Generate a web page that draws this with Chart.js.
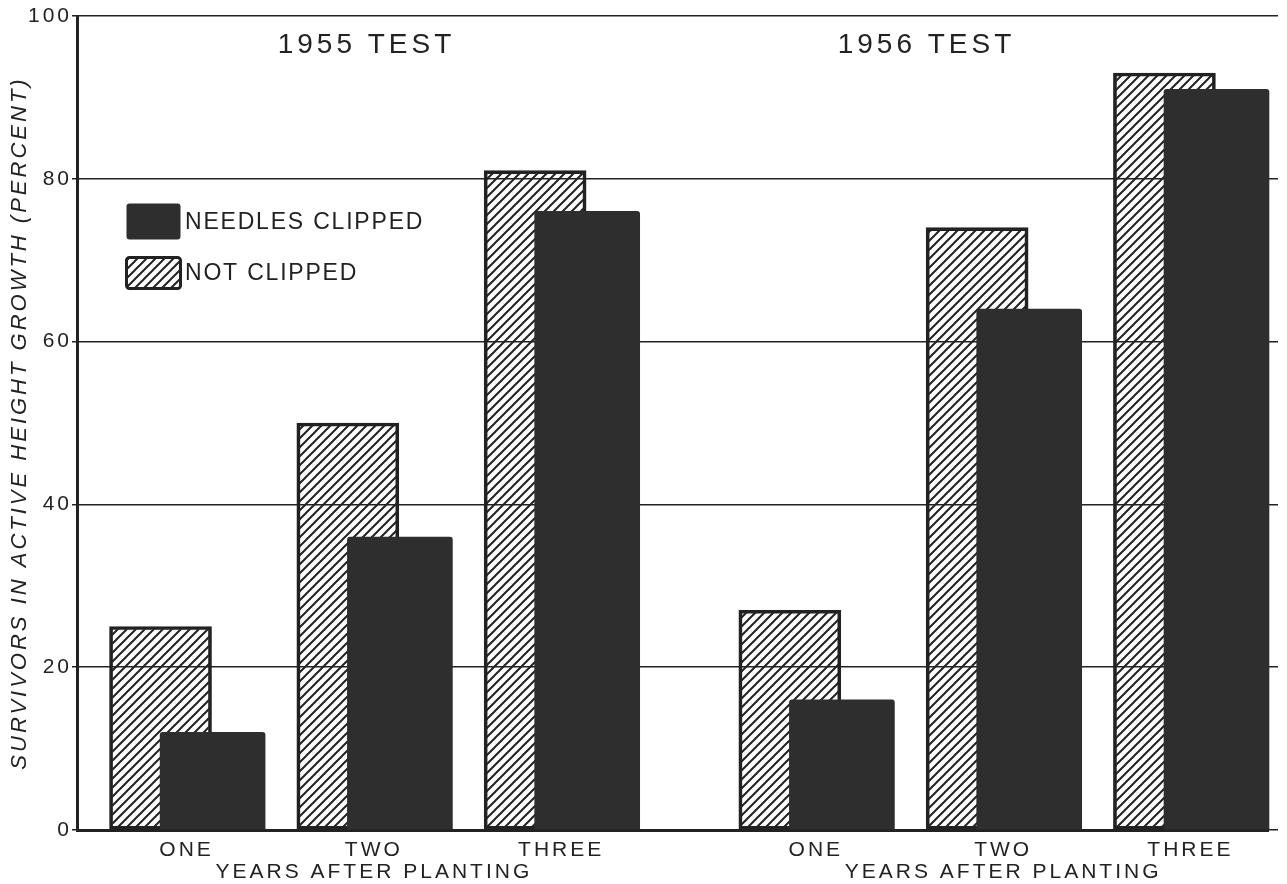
<!DOCTYPE html>
<html>
<head>
<meta charset="utf-8">
<script src="https://cdn.jsdelivr.net/npm/chart.js@4/dist/chart.umd.min.js"></script>
<style>
  body { margin: 0; background: #fff; }
  canvas { display: block; }
</style>
</head>
<body>
<canvas id="chart" width="1287" height="884"></canvas>
<script>
const years = ['ONE', 'TWO', 'THREE'];
const tests = ['1955 TEST', '1956 TEST'];
const xLabels = [...years, ...years];
// category positions, with a wider gap between the two tests
const xPos = [1, 2, 3, 4.36, 5.36, 6.36];
const notClipped = [25, 50, 81, 27, 74, 93];
const clipped = [12, 36, 76, 16, 64, 91];
const yTicks = [0, 20, 40, 60, 80, 100];

const ink = '#222222';
const solid = '#2e2e2e';
const xMin = 0.415, xMax = 6.774;
const shift = 0.139; // half the offset between the two overlapping bars

function makeHatch(ctx) {
    const c = document.createElement('canvas');
    c.width = c.height = 9;
    const g = c.getContext('2d');
    g.strokeStyle = ink;
    g.lineWidth = 2;
    g.beginPath();
    g.moveTo(0, 9); g.lineTo(9, 0);
    g.moveTo(-1, 1); g.lineTo(1, -1);
    g.moveTo(8, 10); g.lineTo(10, 8);
    g.stroke();
    return ctx.createPattern(c, 'repeat');
}

document.addEventListener('DOMContentLoaded', function () {
    const ctx = document.getElementById('chart').getContext('2d');
    const hatch = makeHatch(ctx);

    const extras = {
        id: 'extras',
        beforeDraw: function(chart) {
            chart.ctx.letterSpacing = '3px';
        },
        afterDraw: function(chart) {
            const c = chart.ctx;
            const x = chart.scales.x;
            const y = chart.scales.y;
            const area = chart.chartArea;
            c.save();
            c.fillStyle = ink;
            c.textBaseline = 'middle';

            // test titles
            c.font = '28px "Liberation Sans"';
            c.letterSpacing = '4px';
            c.textAlign = 'center';
            const titleX = [1.95, 4.94];
            tests.forEach((t, i) => c.fillText(t, x.getPixelForValue(titleX[i]) + 2, y.getPixelForValue(96.4)));

            // legend
            const ds = chart.data.datasets;
            const lx = area.left + 48;
            const rows = [{ds: ds[0], top: area.top + 186, h: 39}, {ds: ds[1], top: area.top + 240, h: 34}];
            c.font = '23px "Liberation Sans"';
            c.letterSpacing = '1.8px';
            c.textAlign = 'left';
            rows.forEach(r => {
                c.beginPath();
                c.roundRect(lx + 1.5, r.top + 1.5, 54, r.h - 3, 3);
                c.fillStyle = r.ds.backgroundColor;
                c.fill();
                if (r.ds.borderWidth) {
                    c.lineWidth = 3;
                    c.strokeStyle = r.ds.borderColor;
                    c.stroke();
                }
                c.fillStyle = ink;
                c.fillText(r.ds.label, lx + 60, r.top + r.h / 2 + 1);
            });
            c.restore();
        }
    };

    new Chart(ctx, {
        type: 'bar',
        data: {
            datasets: [{
                label: 'NEEDLES CLIPPED',
                data: xPos.map((v, i) => ({x: v, y: clipped[i]})),
                xAxisID: 'xb',
                backgroundColor: solid,
                borderWidth: 0,
                borderRadius: 3,
                borderSkipped: 'bottom',
                barThickness: 105,
                grouped: false,
                clip: false,
                order: 0
            }, {
                label: 'NOT CLIPPED',
                data: xPos.map((v, i) => ({x: v, y: notClipped[i]})),
                xAxisID: 'xa',
                backgroundColor: hatch,
                borderColor: ink,
                borderWidth: 3,
                borderSkipped: false,
                barThickness: 102,
                grouped: false,
                order: 1
            }]
        },
        options: {
            responsive: false,
            animation: false,
            layout: { padding: { top: 16, left: 0, right: 0, bottom: 0 } },
            plugins: {
                legend: { display: false },
                tooltip: { enabled: false }
            },
            scales: {
                x: {
                    type: 'linear',
                    offset: false,
                    min: xMin,
                    max: xMax,
                    afterBuildTicks: function(scale) {
                        scale.ticks = xPos.map(v => ({value: v}));
                    },
                    afterFit: function(scale) { scale.height = 54; },
                    grid: { display: false, drawTicks: false },
                    border: { display: true, color: ink, width: 3 },
                    ticks: {
                        autoSkip: false,
                        maxRotation: 0,
                        padding: 9,
                        color: ink,
                        font: { family: 'Liberation Sans', size: 21, lineHeight: 1.05 },
                        callback: function(value, index) {
                            return index % 3 === 1 ? [xLabels[index], 'YEARS AFTER PLANTING'] : xLabels[index];
                        }
                    }
                },
                xa: { type: 'linear', display: false, offset: false, min: xMin + shift, max: xMax + shift },
                xb: { type: 'linear', display: false, offset: false, min: xMin - shift, max: xMax - shift },
                y: {
                    min: 0,
                    max: 100,
                    afterBuildTicks: function(scale) {
                        scale.ticks = yTicks.map(v => ({value: v}));
                    },
                    afterFit: function(scale) { scale.width = 77; },
                    grid: { color: ink, lineWidth: 1.5, tickLength: 5 },
                    border: { display: true, color: ink, width: 3 },
                    ticks: {
                        padding: 0,
                        color: ink,
                        font: { family: 'Liberation Sans', size: 21 }
                    },
                    title: {
                        display: true,
                        text: 'SURVIVORS IN ACTIVE HEIGHT GROWTH (PERCENT)',
                        color: ink,
                        padding: { top: 7, bottom: 0 },
                        font: { family: 'Liberation Sans', size: 22, style: 'italic' }
                    }
                },
                y2: {
                    position: 'right',
                    min: 0,
                    max: 100,
                    afterBuildTicks: function(scale) {
                        scale.ticks = yTicks.map(v => ({value: v}));
                    },
                    afterFit: function(scale) { scale.width = 19; },
                    grid: { drawOnChartArea: false, color: ink, lineWidth: 1.5, tickLength: 10 },
                    border: { display: false },
                    ticks: { display: false }
                }
            }
        },
        plugins: [extras]
    });
});
</script>
</body>
</html>
